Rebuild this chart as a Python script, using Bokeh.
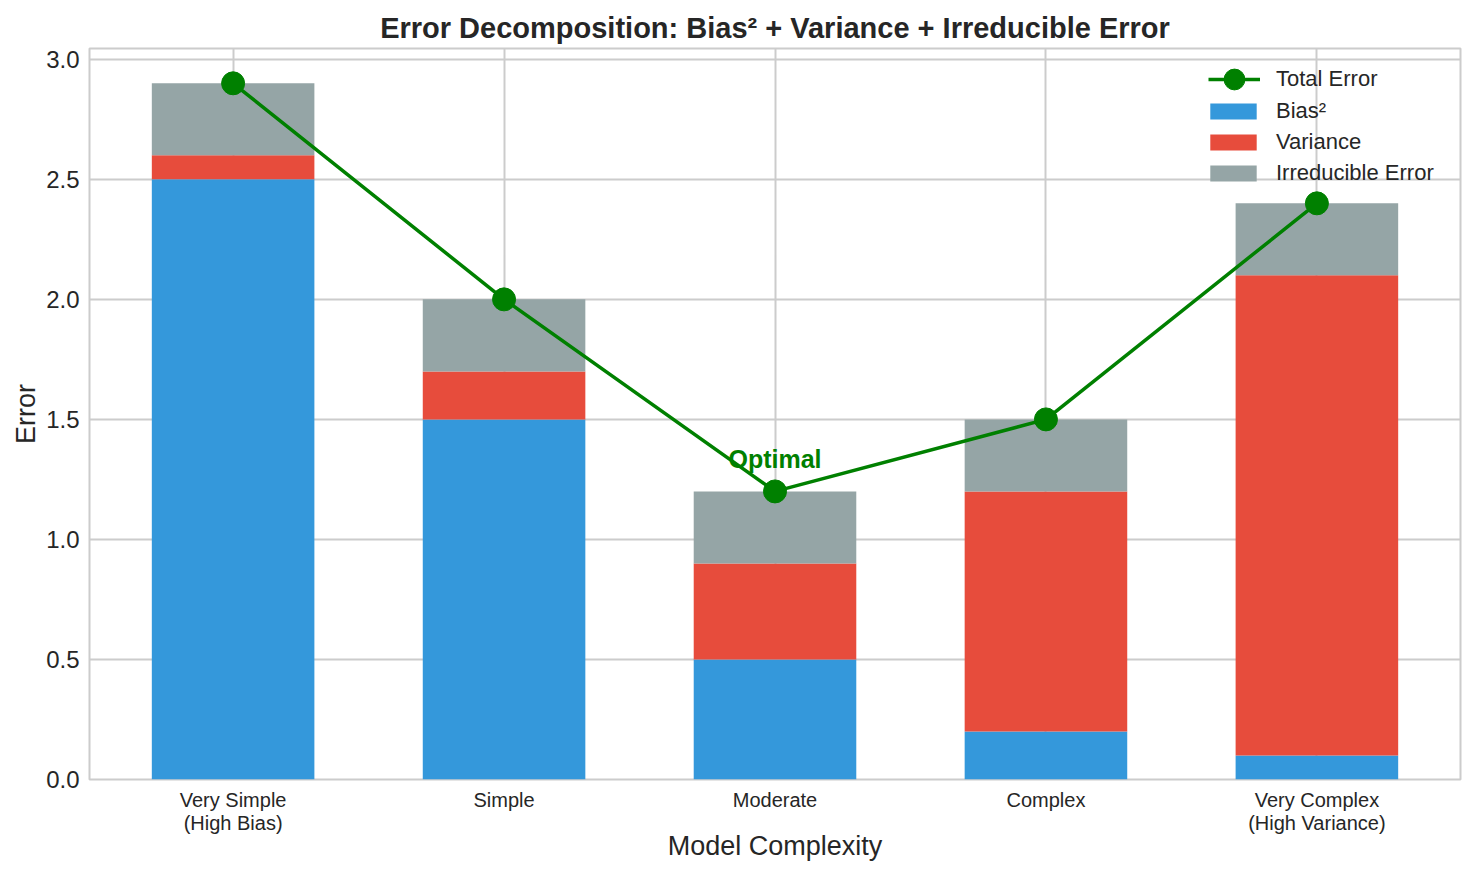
from bokeh.plotting import figure
from bokeh.models import (ColumnDataSource, Range1d, FixedTicker, Legend, LegendItem,
                          PrintfTickFormatter)
from bokeh.core.properties import value
from bokeh.embed import file_html
from bokeh.resources import INLINE

categories = ["Very Simple\n(High Bias)", "Simple", "Moderate", "Complex", "Very Complex\n(High Variance)"]
bias_sq = [2.5, 1.5, 0.5, 0.2, 0.1]
variance = [0.1, 0.2, 0.4, 1.0, 2.0]
irreducible = [0.3, 0.3, 0.3, 0.3, 0.3]
y_ticks = [0.0, 0.5, 1.0, 1.5, 2.0, 2.5, 3.0]

xpos = list(range(len(categories)))
total = [b + v + i for b, v, i in zip(bias_sq, variance, irreducible)]
opt_idx = total.index(min(total))

FONT = "Liberation Sans"
TXT = "#262626"
GRID = "#cccccc"

src = ColumnDataSource(dict(x=xpos, bias=bias_sq, var=variance, irr=irreducible, total=total))

p = figure(width=1475, height=875, output_backend="svg", toolbar_location=None,
           x_range=Range1d(-0.53, 4.53), y_range=Range1d(0, 3.045),
           min_border_left=89, min_border_right=15, min_border_top=48, min_border_bottom=96,
           title="Error Decomposition: Bias\u00b2 + Variance + Irreducible Error")

p.title.align = "center"
p.title.text_font = FONT
p.title.text_font_size = "29px"
p.title.text_font_style = "bold"
p.title.text_color = TXT
p.title.standoff = 10

bars = p.vbar_stack(["bias", "var", "irr"], x="x", width=0.6, source=src,
                    color=["#3498db", "#e74c3c", "#95a5a6"], line_color=None)

ln = p.line("x", "total", source=src, line_color="#008000", line_width=3.5)
sc = p.scatter("x", "total", source=src, size=23, fill_color="#008000", line_color="#008000")

p.text(x=[xpos[opt_idx]], y=[total[opt_idx]], text=["Optimal"], text_align="center",
       text_baseline="alphabetic", y_offset=-32, text_font=value(FONT), text_font_size="25px",
       text_font_style="bold", text_color="#008000")

# axes
p.xaxis.ticker = FixedTicker(ticks=xpos)
p.xaxis.major_label_overrides = {i: c for i, c in zip(xpos, categories)}
p.yaxis.ticker = FixedTicker(ticks=y_ticks)
p.yaxis.formatter = PrintfTickFormatter(format="%.1f")

for ax in (p.xaxis[0], p.yaxis[0]):
    ax.axis_line_color = None
    ax.major_tick_line_color = None
    ax.minor_tick_line_color = None
    ax.major_label_text_font = FONT
    ax.major_label_text_color = TXT
    ax.axis_label_text_font = FONT
    ax.axis_label_text_font_size = "27px"
    ax.axis_label_text_font_style = "normal"
    ax.axis_label_text_color = TXT

p.xaxis.major_label_text_font_size = "20px"
p.xaxis.major_label_text_line_height = 1.05
p.xaxis.major_label_standoff = 3
p.xaxis.axis_label = "Model Complexity"
p.xaxis.axis_label_standoff = -6
p.yaxis.major_label_text_font_size = "24px"
p.yaxis.major_label_standoff = 4
p.yaxis.axis_label = "Error"
p.yaxis.axis_label_standoff = 2

p.xgrid.grid_line_color = GRID
p.ygrid.grid_line_color = GRID
p.xgrid.grid_line_width = 2
p.ygrid.grid_line_width = 2
p.outline_line_color = GRID
p.outline_line_width = 2
p.background_fill_color = "white"

legA = Legend(items=[LegendItem(label="Total Error", renderers=[ln, sc])],
              location=(1119, 670), glyph_width=52, glyph_height=60, label_standoff=16,
              padding=0, spacing=0, margin=0, border_line_alpha=0, background_fill_alpha=0,
              label_text_font=FONT, label_text_font_size="22px", label_text_color=TXT)
legB = Legend(items=[LegendItem(label="Bias\u00b2", renderers=[bars[0]]),
                     LegendItem(label="Variance", renderers=[bars[1]]),
                     LegendItem(label="Irreducible Error", renderers=[bars[2]])],
              location=(1115, 593), glyph_width=58, glyph_height=20, label_standoff=14,
              label_height=26, padding=0, spacing=5, margin=0, border_line_alpha=0,
              background_fill_alpha=0,
              label_text_font=FONT, label_text_font_size="22px", label_text_color=TXT)
p.add_layout(legA, "center")
p.add_layout(legB, "center")

open("out.html", "w").write(file_html(p, INLINE))
